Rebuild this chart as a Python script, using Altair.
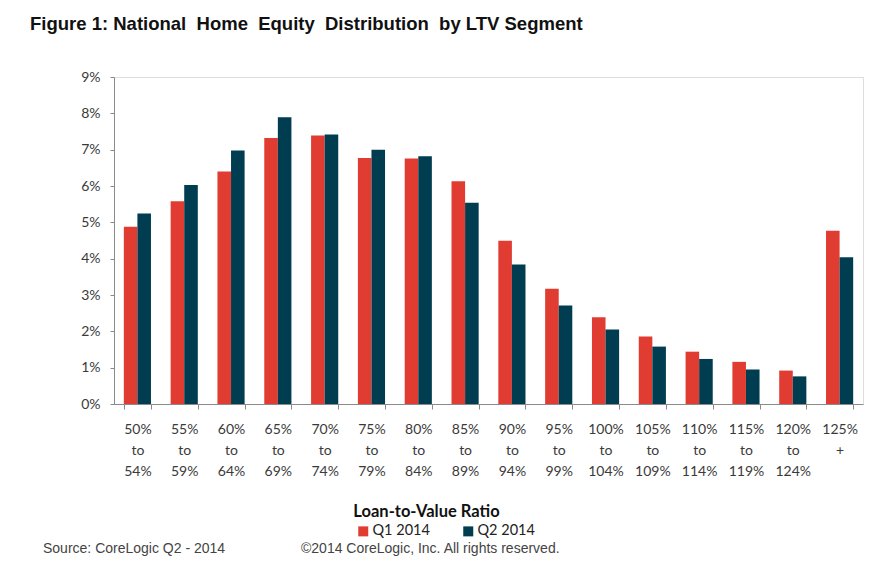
import altair as alt
import pandas as pd

categories = ["50%|to|54%", "55%|to|59%", "60%|to|64%", "65%|to|69%", "70%|to|74%",
              "75%|to|79%", "80%|to|84%", "85%|to|89%", "90%|to|94%", "95%|to|99%",
              "100%|to|104%", "105%|to|109%", "110%|to|114%", "115%|to|119%",
              "120%|to|124%", "125%|+"]
q1_2014 = [4.88, 5.58, 6.40, 7.32, 7.39, 6.77, 6.76, 6.13, 4.49, 3.17,
           2.39, 1.86, 1.44, 1.16, 0.92, 4.77]
q2_2014 = [5.24, 6.03, 6.98, 7.89, 7.42, 7.00, 6.82, 5.54, 3.84, 2.71,
           2.05, 1.58, 1.24, 0.95, 0.76, 4.04]
series = ["Q1 2014", "Q2 2014"]
colors = ["#E03C32", "#003D50"]
y_ticks = [0, 0.01, 0.02, 0.03, 0.04, 0.05, 0.06, 0.07, 0.08, 0.09]
notes_text = ["Source: CoreLogic Q2 - 2014", "\u00a92014 CoreLogic, Inc. All rights reserved."]
title_text = "Figure 1: National\u00a0 Home\u00a0 Equity\u00a0 Distribution\u00a0 by LTV Segment"

rows = []
for c, a, b in zip(categories, q1_2014, q2_2014):
    rows.append({"ltv": c, "series": series[0], "share": a / 100})
    rows.append({"ltv": c, "series": series[1], "share": b / 100})
df = pd.DataFrame(rows)

bars = alt.Chart(df).mark_bar().encode(
    x=alt.X("ltv:N", sort=categories,
            scale=alt.Scale(paddingInner=0.42, paddingOuter=0.21),
            axis=alt.Axis(title="Loan-to-Value Ratio", labelAngle=0,
                          labelExpr="split(datum.label, '|')",
                          labelFont="Lato", labelFontSize=14, labelColor="#3a3a3a",
                          labelLineHeight=21, labelBaseline="top", labelPadding=13,
                          tickBand="extent", tickSize=5, tickColor="#8a8a8a",
                          domainColor="#8a8a8a",
                          titleFont="Lato", titleFontSize=16.5, titleFontWeight="bold",
                          titleColor="#111111", titleX=312, titleY=112,
                          titleBaseline="alphabetic", titleAnchor="middle")),
    xOffset=alt.XOffset("series:N", sort=series, scale=alt.Scale(paddingInner=0, paddingOuter=0)),
    y=alt.Y("share:Q", scale=alt.Scale(domain=[0, 0.09], nice=False),
            axis=alt.Axis(title=None, format=".0%", values=y_ticks, grid=False,
                          labelFont="Lato", labelFontSize=14, labelColor="#3a3a3a",
                          labelPadding=10, tickSize=4, tickColor="#8a8a8a",
                          domainColor="#8a8a8a")),
    color=alt.Color("series:N", sort=series,
                    scale=alt.Scale(domain=series, range=colors),
                    legend=alt.Legend(title=None, orient="none", direction="horizontal",
                                      legendX=242, legendY=447, padding=0,
                                      symbolType="square", symbolSize=100,
                                      symbolStrokeWidth=0, labelFont="Lato",
                                      labelFontSize=14.5, labelColor="#222222",
                                      labelOffset=2, columnPadding=31)),
)

src = alt.Chart(pd.DataFrame({"text": [notes_text[0]]})).mark_text(
    align="left", baseline="alphabetic", font="Liberation Sans", fontSize=14,
    color="#444444").encode(x=alt.value(-71), y=alt.value(476), text="text:N")
cpy = alt.Chart(pd.DataFrame({"text": [notes_text[1]]})).mark_text(
    align="left", baseline="alphabetic", font="Liberation Sans", fontSize=14,
    color="#444444").encode(x=alt.value(187), y=alt.value(476), text="text:N")

chart = alt.layer(bars, src, cpy).properties(
    width=749, height=327,
    autosize=alt.AutoSizeParams(type="none"),
    padding={"left": 106, "top": 69, "right": 10, "bottom": 152},
    title=alt.TitleParams(
        text=title_text,
        anchor="start", dx=-84, frame="group", offset=22, baseline="alphabetic",
        font="Liberation Sans", fontSize=18.5, fontWeight="bold", color="#111111"),
).configure_view(stroke=None).configure(background="white")

chart.save("out.html", embed_options={"renderer": "svg", "actions": False})
